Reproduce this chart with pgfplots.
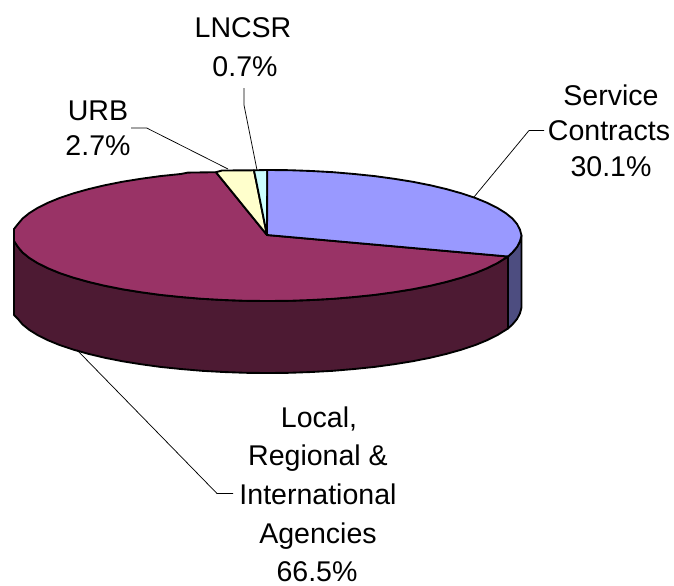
\documentclass[border=0pt]{standalone}
\usepackage{pgfplots}
\pgfplotsset{compat=1.18}
\usepackage{fontspec}
\setmainfont{Liberation Sans}
\definecolor{svc}{HTML}{9999FF}
\definecolor{svcd}{HTML}{4D4D80}
\definecolor{loc}{HTML}{993366}
\definecolor{locd}{HTML}{4D1A33}
\definecolor{urb}{HTML}{FFFFCC}
\definecolor{lnc}{HTML}{CCFFFF}
\begin{document}
\begin{tikzpicture}
\begin{axis}[
  scale only axis, width=505.5pt, height=438.75pt,
  xmin=0, xmax=674, ymin=0, ymax=585, y dir=reverse,
  axis lines=none, clip=false,
  every axis plot/.append style={line join=round, line width=1.4pt, draw=black},
]
\path (axis cs:0,0) rectangle (axis cs:674,585);
% side of Service Contracts
\addplot[fill=svcd] coordinates {(508,256.5)(512.4,252.5)(517.1,246.9)(520,241.2)(521.5,235.5)(521.5,307.5)(520,313.2)(517.1,318.9)(512.4,324.5)(508,328.5)} --cycle;
% side of Local, Regional & International Agencies
\addplot[fill=locd] coordinates {(508,256.5)(497.2,263.2)(487,268.25)(475.2,273.1)(461.7,277.6)(446.8,281.8)(430.5,285.7)(412.9,289.2)(394.25,292.2)(374.6,294.9)(354.2,297)(333.1,298.8)(311.5,300)(289.6,300.8)(267.5,301)(245.4,300.8)(223.5,300)(201.9,298.8)(180.8,297)(160.4,294.9)(140.75,292.2)(122.1,289.2)(104.5,285.7)(88.2,281.8)(73.3,277.6)(59.8,273.1)(48,268.25)(37.8,263.2)(29.3,257.9)(22.6,252.5)(17.9,246.9)(14,241)(14,315)(17.9,318.9)(22.6,324.5)(29.3,329.9)(37.8,335.2)(48,340.25)(59.8,345.1)(73.3,349.6)(88.2,353.8)(104.5,357.7)(122.1,361.2)(140.75,364.2)(160.4,366.9)(180.8,369)(201.9,370.8)(223.5,372)(245.4,372.8)(267.5,373)(289.6,372.8)(311.5,372)(333.1,370.8)(354.2,369)(374.6,366.9)(394.25,364.2)(412.9,361.2)(430.5,357.7)(446.8,353.8)(461.7,349.6)(475.2,345.1)(487,340.25)(497.2,335.2)(508,328.5)} --cycle;
% top: Local, Regional & International Agencies
\addplot[fill=loc] coordinates {(267,235)(508,256.5)(497.2,263.2)(487,268.25)(475.2,273.1)(461.7,277.6)(446.8,281.8)(430.5,285.7)(412.9,289.2)(394.25,292.2)(374.6,294.9)(354.2,297)(333.1,298.8)(311.5,300)(289.6,300.8)(267.5,301)(245.4,300.8)(223.5,300)(201.9,298.8)(180.8,297)(160.4,294.9)(140.75,292.2)(122.1,289.2)(104.5,285.7)(88.2,281.8)(73.3,277.6)(59.8,273.1)(48,268.25)(37.8,263.2)(29.3,257.9)(22.6,252.5)(17.9,246.9)(14,241)(14,229)(17.9,224.1)(22.6,218.5)(29.3,213.1)(37.8,207.8)(48,202.75)(59.8,197.9)(73.3,193.4)(88.2,189.2)(104.5,185.3)(122.1,181.8)(140.75,178.8)(160.4,176.1)(180.8,174)(188,172.6)(216,172.2)} --cycle;
% top: URB
\addplot[fill=urb] coordinates {(267,235)(216,172.2)(222,170.5)(254,170.3)} --cycle;
% top: LNCSR
\addplot[fill=lnc] coordinates {(267,235)(254,170.3)(267.3,170)} --cycle;
% top: Service Contracts
\addplot[fill=svc] coordinates {(267,235)(267.3,170)(289.6,170.2)(311.5,171)(333.1,172.2)(354.2,174)(374.6,176.1)(394.25,178.8)(412.9,181.8)(430.5,185.3)(446.8,189.2)(461.7,193.4)(475.2,197.9)(487,202.75)(497.2,207.8)(505.7,213.1)(512.4,218.5)(517.1,224.1)(520,229.8)(521.5,235.5)(520,241.2)(517.1,246.9)(512.4,252.5)(508,256.5)} --cycle;
% leader lines
\addplot[line width=0.55pt] coordinates {(474,197)(529,130.5)(544,130.5)};
\addplot[line width=0.55pt] coordinates {(228,169)(146.7,128)(131,128)};
\addplot[line width=0.55pt] coordinates {(257,170)(244,105)(244,88)};
\addplot[line width=0.55pt] coordinates {(77,350)(217,493.5)(233,493.5)};
% labels
\tikzset{lab/.style={anchor=base, inner sep=0pt, font=\fontsize{21.4}{26}\selectfont}}
\node[lab] at (axis cs:611,105) {Service};
\node[lab] at (axis cs:609,140) {Contracts};
\node[lab] at (axis cs:611,176) {30.1\%};
\node[lab] at (axis cs:243,38) {LNCSR};
\node[lab] at (axis cs:245,76) {0.7\%};
\node[lab] at (axis cs:98,120) {URB};
\node[lab] at (axis cs:98,155) {2.7\%};
\node[lab] at (axis cs:319,427) {Local,};
\node[lab] at (axis cs:318,465) {Regional \&};
\node[lab] at (axis cs:318,504) {International};
\node[lab] at (axis cs:318,543) {Agencies};
\node[lab] at (axis cs:317,581) {66.5\%};
\end{axis}
\end{tikzpicture}
\end{document}
